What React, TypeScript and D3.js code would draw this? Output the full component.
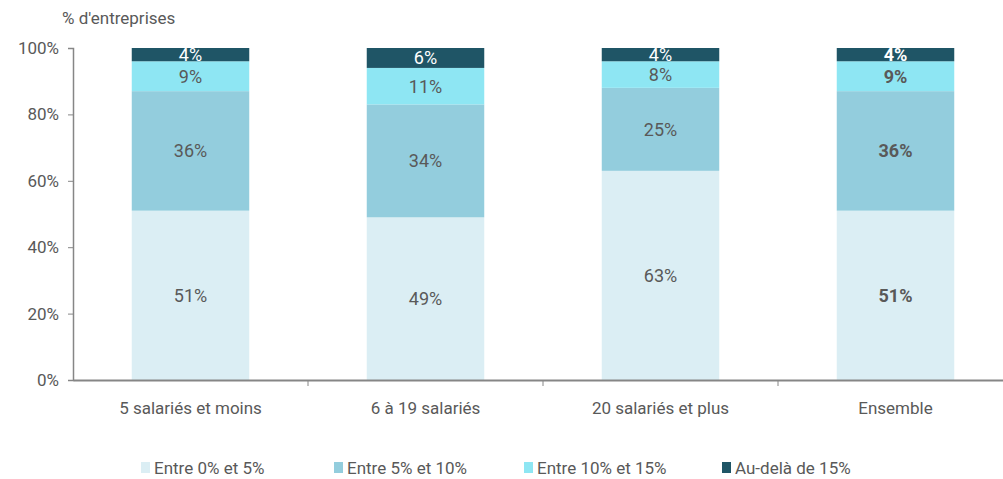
import React, { useEffect, useRef } from "react";
import * as d3 from "d3";

const categories = ["5 salariés et moins", "6 à 19 salariés", "20 salariés et plus", "Ensemble"];
const seriesNames = ["Entre 0% et 5%", "Entre 5% et 10%", "Entre 10% et 15%", "Au-delà de 15%"];
const entre0et5 = [51, 49, 63, 51];
const entre5et10 = [36, 34, 25, 36];
const entre10et15 = [9, 11, 8, 9];
const audela15 = [4, 6, 4, 4];
const yTicks = [0, 20, 40, 60, 80, 100];

const colors = ["#dbeef4", "#93cddd", "#8ee6f3", "#1f5566"];
const labelColors = ["#595959", "#595959", "#595959", "#ffffff"];
const font = "Roboto, 'Open Sans', sans-serif";

function App() {
  const svgRef = useRef<SVGSVGElement>(null);

  useEffect(() => {
    const width = 1003;
    const height = 479;
    const margin = { top: 48, right: -10, bottom: 99, left: 73 };

    const svg = d3.select(svgRef.current);
    svg.selectAll("*").remove();

    const x = d3
      .scaleBand()
      .domain(categories)
      .range([margin.left, width - margin.right])
      .paddingInner(0.5)
      .paddingOuter(0.25);

    const y = d3
      .scaleLinear()
      .domain([0, 100])
      .range([height - margin.bottom, margin.top]);

    const rows = categories.map((c, i) => ({
      cat: c,
      s0: entre0et5[i],
      s1: entre5et10[i],
      s2: entre10et15[i],
      s3: audela15[i],
    }));
    const stacked = d3.stack<any>().keys(["s0", "s1", "s2", "s3"])(rows);

    // bars
    stacked.forEach((layer, k) => {
      svg
        .append("g")
        .selectAll("rect")
        .data(layer)
        .enter()
        .append("rect")
        .attr("x", (d) => x(d.data.cat)!)
        .attr("y", (d) => y(d[1]))
        .attr("width", x.bandwidth())
        .attr("height", (d) => y(d[0]) - y(d[1]))
        .attr("fill", colors[k]);
    });

    // value labels
    stacked.forEach((layer, k) => {
      svg
        .append("g")
        .selectAll("text")
        .data(layer)
        .enter()
        .append("text")
        .attr("x", (d) => x(d.data.cat)! + x.bandwidth() / 2)
        .attr("y", (d) => (y(d[0]) + y(d[1])) / 2)
        .attr("dy", "0.36em")
        .attr("text-anchor", "middle")
        .attr("font-family", font)
        .attr("font-size", 18)
        .attr("font-weight", (d) => (d.data.cat === "Ensemble" ? "bold" : "normal"))
        .attr("fill", labelColors[k])
        .text((d) => `${d[1] - d[0]}%`);
    });

    // y axis
    const yAxis = svg
      .append("g")
      .attr("transform", `translate(${margin.left},0)`)
      .call(
        d3
          .axisLeft(y)
          .tickValues(yTicks)
          .tickFormat((d) => `${d}%`)
          .tickSize(5)
          .tickPadding(9)
      );
    yAxis.select(".domain").attr("stroke", "#868686").attr("stroke-width", 1.5);
    yAxis.selectAll(".tick line").attr("stroke", "#868686");
    yAxis
      .selectAll(".tick text")
      .attr("font-family", font)
      .attr("font-size", 17)
      .attr("fill", "#595959");

    // x axis
    const xAxis = svg
      .append("g")
      .attr("transform", `translate(0,${height - margin.bottom})`)
      .call(d3.axisBottom(x).tickSize(0).tickPadding(22));
    xAxis.select(".domain").attr("stroke", "#868686").attr("stroke-width", 2);
    xAxis
      .selectAll(".tick text")
      .attr("font-family", font)
      .attr("font-size", 17)
      .attr("fill", "#595959");

    // separators between categories
    const step = x.step();
    svg
      .append("g")
      .selectAll("line")
      .data(categories.slice(1))
      .enter()
      .append("line")
      .attr("x1", (d) => x(d)! - (step - x.bandwidth()) / 2)
      .attr("x2", (d) => x(d)! - (step - x.bandwidth()) / 2)
      .attr("y1", height - margin.bottom)
      .attr("y2", height - margin.bottom + 6)
      .attr("stroke", "#868686");

    // axis title
    svg
      .append("text")
      .attr("x", 62)
      .attr("y", 24)
      .attr("font-family", font)
      .attr("font-size", 17)
      .attr("fill", "#595959")
      .text("% d'entreprises");

    // legend
    const legendX = [141, 334, 524, 722];
    const legend = svg
      .append("g")
      .selectAll("g")
      .data(seriesNames)
      .enter()
      .append("g")
      .attr("transform", (_d, i) => `translate(${legendX[i]},468)`);
    legend
      .append("rect")
      .attr("x", 0)
      .attr("y", -6)
      .attr("width", 9)
      .attr("height", 11)
      .attr("fill", (_d, i) => colors[i]);
    legend
      .append("text")
      .attr("x", 13)
      .attr("y", 0)
      .attr("dy", "0.36em")
      .attr("font-family", font)
      .attr("font-size", 17)
      .attr("fill", "#595959")
      .text((d) => d);
  }, []);

  return (
    <svg
      ref={svgRef}
      width={1003}
      height={479}
      style={{ position: "absolute", left: 0, top: 0, background: "#fff" }}
    ></svg>
  );
}

export default App;
